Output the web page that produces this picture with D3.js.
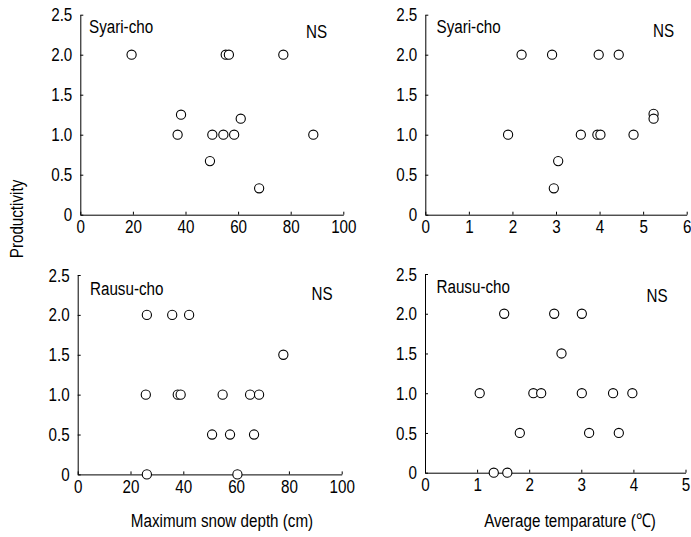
<!DOCTYPE html>
<html>
<head>
<meta charset="utf-8">
<title>Productivity scatter</title>
<style>
  body { margin: 0; background: #fff; }
  text { font-family: "Liberation Sans", Arial, sans-serif; fill: #000; }
</style>
<script src="https://d3js.org/d3.v7.min.js"></script>
</head>
<body>
<svg width="691" height="537"></svg>
<script>
// Syari-cho: snow depth (cm), temperature (C), productivity
var syariSnow = [19.5, 37, 38.3, 49.3, 50.2, 54.4, 55.3, 56.5, 58.5, 61, 68, 77.2, 88.6];
var syariSnowProd = [2.0, 1.0, 1.25, 0.67, 1.0, 1.0, 2.0, 2.0, 1.0, 1.2, 0.33, 2.0, 1.0];
var syariTemp = [2.21, 2.91, 3.98, 4.44, 1.90, 3.57, 3.95, 4.02, 4.78, 5.24, 5.24, 3.05, 2.95];
var syariTempProd = [2.0, 2.0, 2.0, 2.0, 1.0, 1.0, 1.0, 1.0, 1.0, 1.26, 1.2, 0.67, 0.33];

// Rausu-cho
var rausuSnow = [26.2, 35.8, 42.2, 77.9, 25.8, 37.9, 39, 54.9, 65.3, 68.7, 50.9, 57.7, 66.8, 26.2, 60.5];
var rausuSnowProd = [2.0, 2.0, 2.0, 1.5, 1.0, 1.0, 1.0, 1.0, 1.0, 1.0, 0.5, 0.5, 0.5, 0, 0];
var rausuTemp = [1.52, 2.48, 3.01, 2.62, 1.05, 2.08, 2.23, 3.01, 3.61, 3.98, 1.82, 3.15, 3.72, 1.32, 1.58];
var rausuTempProd = [2.0, 2.0, 2.0, 1.5, 1.0, 1.0, 1.0, 1.0, 1.0, 1.0, 0.5, 0.5, 0.5, 0, 0];

var yTicks = [0, 0.5, 1.0, 1.5, 2.0, 2.5];

var svg = d3.select("svg");
var fs = "19px", sx = 0.8; // text is condensed horizontally

// place a condensed text at (x, y)
function label(parent, x, y, str, anchor){
  return parent.append("text")
    .attr("transform", "translate(" + x + "," + y + ") scale(" + sx + ",1)")
    .attr("text-anchor", anchor || "start")
    .style("font-size", fs)
    .text(str);
}

var panels = [
  {x: syariSnow, y: syariSnowProd, xmax: 100, xticks: [0,20,40,60,80,100], name: "Syari-cho",
   left: 80.3, right: 343.3, top: 14.7, bottom: 214.7, nameAt: [89, 33], nsAt: [306, 38]},
  {x: syariTemp, y: syariTempProd, xmax: 6, xticks: [0,1,2,3,4,5,6], name: "Syari-cho",
   left: 425.3, right: 686.7, top: 14.7, bottom: 214.7, nameAt: [436.5, 33], nsAt: [653, 37]},
  {x: rausuSnow, y: rausuSnowProd, xmax: 100, xticks: [0,20,40,60,80,100], name: "Rausu-cho",
   left: 77.7, right: 341.7, top: 275, bottom: 474.4, nameAt: [90, 295], nsAt: [311.5, 300]},
  {x: rausuTemp, y: rausuTempProd, xmax: 5, xticks: [0,1,2,3,4,5], name: "Rausu-cho",
   left: 425, right: 685.5, top: 274, bottom: 472.7, nameAt: [436.5, 293], nsAt: [646.5, 302]}
];

panels.forEach(function(p){
  var x = d3.scaleLinear().domain([0, p.xmax]).range([p.left, p.right]);
  var y = d3.scaleLinear().domain([0, 2.5]).range([p.bottom, p.top]);
  var g = svg.append("g");

  var xa = g.append("g")
    .attr("transform", "translate(0," + p.bottom + ")")
    .call(d3.axisBottom(x).tickValues(p.xticks).tickSizeInner(-3).tickSizeOuter(0).tickPadding(5)
      .tickFormat(d3.format("d")));
  var ya = g.append("g")
    .attr("transform", "translate(" + p.left + ",0)")
    .call(d3.axisLeft(y).tickValues(yTicks).tickSizeInner(-3).tickSizeOuter(0).tickPadding(8)
      .tickFormat(function(d){ return d === 0 ? "0" : d3.format(".1f")(d); }));
  [xa, ya].forEach(function(a){
    a.attr("font-family", null).attr("font-size", null);
    a.selectAll("text")
      .style("font-size", fs)
      .attr("x", function(){ return (+d3.select(this).attr("x") || 0) / sx; })
      .attr("transform", "scale(" + sx + ",1)");
  });

  g.selectAll("circle")
    .data(p.x.map(function(v, i){ return [v, p.y[i]]; }))
    .enter().append("circle")
      .attr("cx", function(d){ return x(d[0]); })
      .attr("cy", function(d){ return y(d[1]); })
      .attr("r", 4.6)
      .attr("fill", "#fff")
      .attr("stroke", "#000")
      .attr("stroke-width", 1.1);

  label(g, p.nameAt[0], p.nameAt[1], p.name);
  label(g, p.nsAt[0], p.nsAt[1], "NS");
});

svg.append("text")
  .attr("transform", "translate(23,219) rotate(-90) scale(" + sx + ",1)")
  .attr("text-anchor", "middle")
  .style("font-size", fs)
  .text("Productivity");

label(svg, 222, 527, "Maximum snow depth (cm)", "middle");
label(svg, 570, 527, "Average temparature (\u2103)", "middle");
</script>
</body>
</html>
